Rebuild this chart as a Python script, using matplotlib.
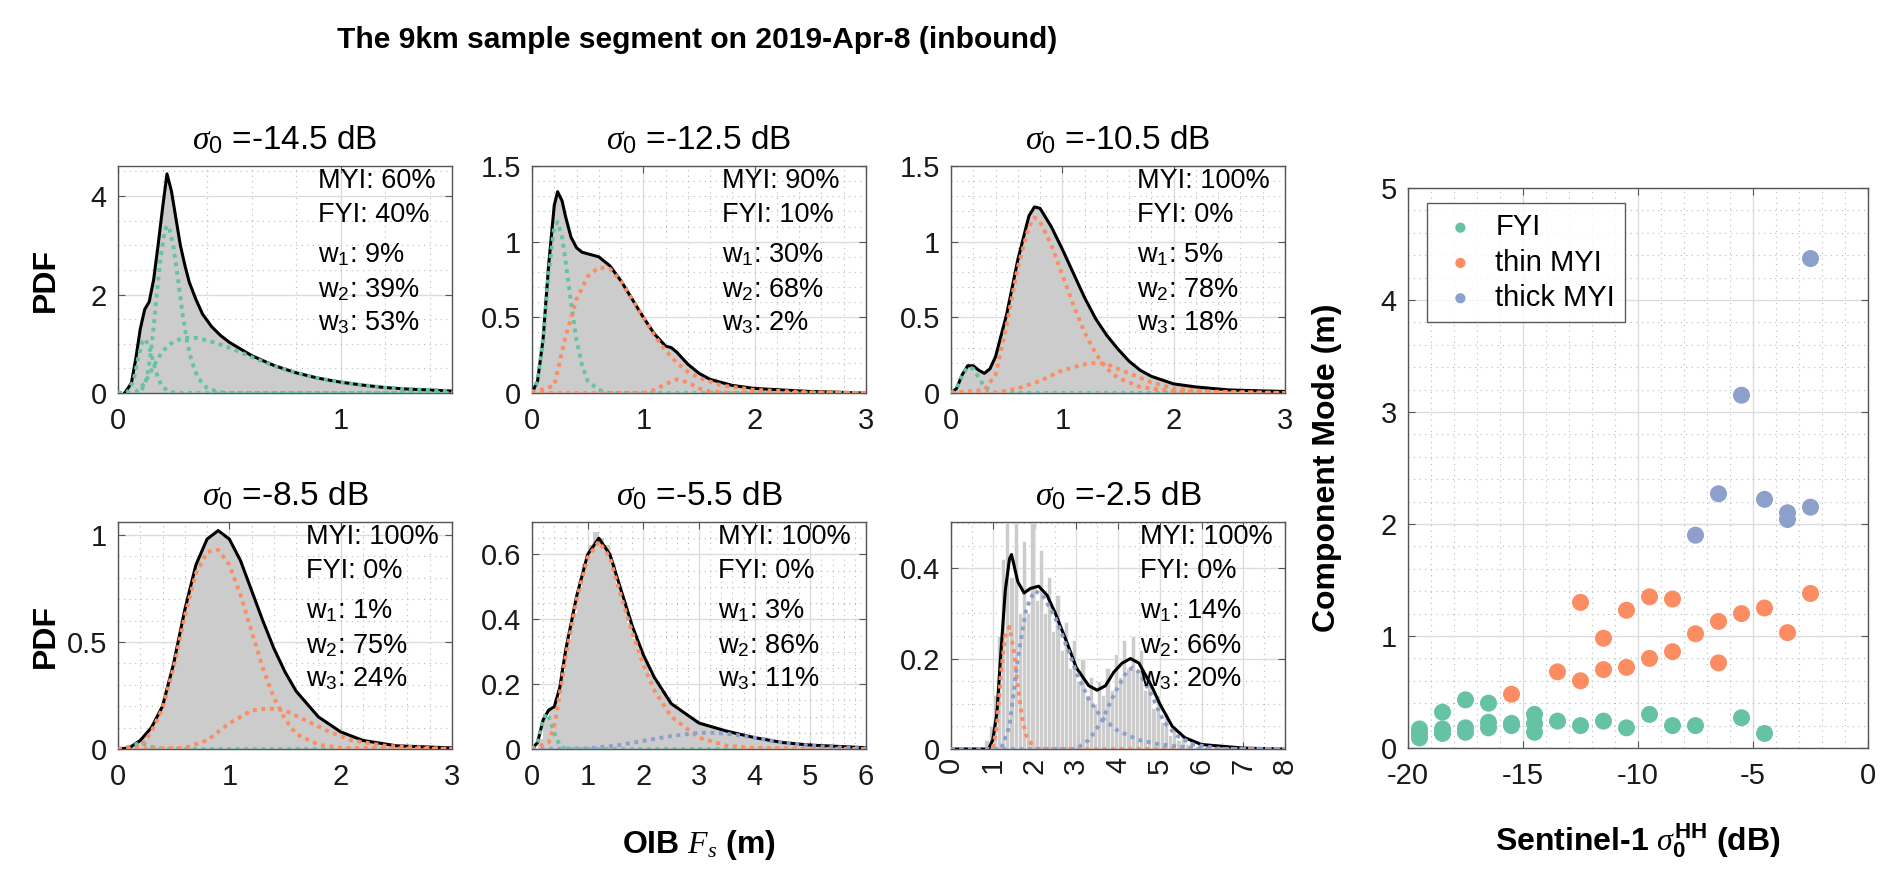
import matplotlib
matplotlib.use("Agg")
import matplotlib.pyplot as plt
import numpy as np
from matplotlib.ticker import FuncFormatter, MultipleLocator

plt.rcParams["font.family"] = ["Liberation Sans", "DejaVu Sans"]
plt.rcParams["mathtext.fontset"] = "custom"
plt.rcParams["mathtext.rm"] = "Liberation Sans"
plt.rcParams["mathtext.it"] = "Liberation Serif:italic"
plt.rcParams["mathtext.bf"] = "Liberation Sans:bold"

SUPTITLE = "The 9km sample segment on 2019-Apr-8 (inbound)"

SIGMA0_LABELS = ["-14.5", "-12.5", "-10.5", "-8.5", "-5.5", "-2.5"]
MYI_PCT = [60, 90, 100, 100, 100, 100]
FYI_PCT = [40, 10, 0, 0, 0, 0]
W1_PCT = [9, 30, 5, 1, 3, 14]
W2_PCT = [39, 68, 78, 75, 86, 66]
W3_PCT = [53, 2, 18, 24, 11, 20]

# ---- panel 1 (-14.5 dB)
P1_TOTAL_X = [0.03, 0.06, 0.08, 0.10, 0.12, 0.14, 0.16, 0.18, 0.20, 0.22, 0.24, 0.26, 0.28, 0.30,
              0.32, 0.35, 0.38, 0.42, 0.46, 0.50, 0.60, 0.70, 0.80, 0.90, 1.00, 1.10, 1.20, 1.30,
              1.40, 1.50]
P1_TOTAL_Y = [0.0, 0.2, 0.7, 1.3, 1.7, 1.85, 2.3, 3.0, 3.75, 4.45, 4.1, 3.55, 3.0, 2.6,
              2.25, 1.9, 1.6, 1.35, 1.17, 1.03, 0.76, 0.56, 0.41, 0.30, 0.22, 0.16, 0.11, 0.08,
              0.06, 0.04]
P1_W1_X = [0.0, 0.04, 0.07, 0.09, 0.11, 0.12, 0.14, 0.16, 0.18, 0.20, 0.23, 0.26, 1.5]
P1_W1_Y = [0.0, 0.0, 0.25, 0.7, 1.05, 1.1, 0.95, 0.6, 0.3, 0.12, 0.03, 0.0, 0.0]
P1_W2_X = [0.0, 0.10, 0.13, 0.15, 0.17, 0.19, 0.21, 0.22, 0.23, 0.25, 0.27, 0.29, 0.31, 0.33,
           0.36, 0.40, 0.45, 0.50, 1.5]
P1_W2_Y = [0.0, 0.0, 0.3, 0.9, 1.8, 2.7, 3.3, 3.4, 3.35, 2.95, 2.3, 1.6, 1.05, 0.65,
           0.3, 0.1, 0.02, 0.0, 0.0]
P1_W3_X = [0.0, 0.05, 0.08, 0.12, 0.16, 0.20, 0.25, 0.30, 0.35, 0.40, 0.45, 0.50, 0.60, 0.70,
           0.80, 0.90, 1.00, 1.10, 1.20, 1.30, 1.40, 1.50]
P1_W3_Y = [0.0, 0.0, 0.02, 0.2, 0.55, 0.85, 1.05, 1.12, 1.12, 1.07, 1.0, 0.92, 0.73, 0.55,
           0.41, 0.30, 0.22, 0.16, 0.11, 0.08, 0.06, 0.04]

# ---- panel 2 (-12.5 dB)
P2_TOTAL_X = [0.0, 0.05, 0.1, 0.15, 0.2, 0.23, 0.27, 0.3, 0.35, 0.4, 0.45, 0.5, 0.6, 0.7, 0.8,
              0.9, 1.0, 1.1, 1.2, 1.25, 1.3, 1.4, 1.5, 1.6, 1.8, 2.0, 2.5, 3.0]
P2_TOTAL_Y = [0.0, 0.08, 0.36, 0.85, 1.24, 1.33, 1.27, 1.17, 1.03, 0.96, 0.93, 0.92, 0.9, 0.84,
              0.74, 0.62, 0.5, 0.39, 0.31, 0.3, 0.27, 0.19, 0.13, 0.09, 0.05, 0.03, 0.01, 0.0]
P2_W1_X = [0.0, 0.05, 0.1, 0.15, 0.2, 0.23, 0.27, 0.3, 0.35, 0.4, 0.45, 0.5, 0.6, 0.7, 3.0]
P2_W1_Y = [0.0, 0.08, 0.36, 0.8, 1.1, 1.13, 1.03, 0.88, 0.6, 0.35, 0.18, 0.08, 0.02, 0.0, 0.0]
P2_W2_X = [0.0, 0.2, 0.3, 0.4, 0.5, 0.6, 0.7, 0.8, 0.9, 1.0, 1.1, 1.2, 1.3, 1.4, 1.5, 1.7,
           2.0, 2.5, 3.0]
P2_W2_Y = [0.0, 0.05, 0.37, 0.62, 0.77, 0.83, 0.82, 0.74, 0.62, 0.5, 0.38, 0.28, 0.2, 0.14,
           0.1, 0.05, 0.02, 0.005, 0.0]
P2_W3_X = [0.0, 1.0, 1.1, 1.2, 1.3, 1.4, 1.5, 1.6, 1.8, 3.0]
P2_W3_Y = [0.0, 0.0, 0.02, 0.06, 0.09, 0.07, 0.03, 0.01, 0.0, 0.0]

# ---- panel 3 (-10.5 dB)
P3_TOTAL_X = [0.0, 0.05, 0.1, 0.15, 0.2, 0.25, 0.3, 0.35, 0.4, 0.5, 0.6, 0.7, 0.75, 0.8, 0.9,
              1.0, 1.1, 1.2, 1.3, 1.4, 1.5, 1.6, 1.7, 1.8, 2.0, 2.2, 2.5, 3.0]
P3_TOTAL_Y = [0.0, 0.03, 0.12, 0.18, 0.18, 0.15, 0.13, 0.16, 0.24, 0.52, 0.88, 1.17, 1.23, 1.22,
              1.1, 0.95, 0.79, 0.63, 0.49, 0.38, 0.29, 0.21, 0.15, 0.11, 0.06, 0.04, 0.02, 0.01]
P3_W1_X = [0.0, 0.05, 0.1, 0.15, 0.2, 0.25, 0.3, 0.4, 3.0]
P3_W1_Y = [0.0, 0.03, 0.12, 0.17, 0.16, 0.1, 0.04, 0.0, 0.0]
P3_W2_X = [0.0, 0.3, 0.4, 0.5, 0.6, 0.7, 0.75, 0.8, 0.9, 1.0, 1.1, 1.2, 1.3, 1.4, 1.5, 1.7,
           2.0, 3.0]
P3_W2_Y = [0.0, 0.02, 0.12, 0.45, 0.83, 1.1, 1.16, 1.13, 0.98, 0.78, 0.58, 0.4, 0.26, 0.16,
           0.1, 0.04, 0.01, 0.0]
P3_W3_X = [0.0, 0.4, 0.6, 0.8, 1.0, 1.2, 1.3, 1.4, 1.6, 1.8, 2.0, 2.3, 3.0]
P3_W3_Y = [0.0, 0.0, 0.03, 0.08, 0.15, 0.19, 0.2, 0.19, 0.13, 0.07, 0.03, 0.01, 0.0]

# ---- panel 4 (-8.5 dB)
P4_TOTAL_X = [0.0, 0.1, 0.2, 0.3, 0.4, 0.5, 0.6, 0.7, 0.8, 0.9, 1.0, 1.1, 1.2, 1.3, 1.4, 1.5,
              1.6, 1.8, 2.0, 2.2, 2.5, 3.0]
P4_TOTAL_Y = [0.0, 0.005, 0.04, 0.1, 0.2, 0.4, 0.65, 0.86, 0.98, 1.02, 0.98, 0.88, 0.74, 0.6,
              0.47, 0.36, 0.27, 0.15, 0.08, 0.04, 0.015, 0.005]
P4_W1_X = [0.0, 0.1, 0.2, 0.3, 0.4, 3.0]
P4_W1_Y = [0.0, 0.01, 0.03, 0.01, 0.0, 0.0]
P4_W2_X = [0.0, 0.2, 0.3, 0.4, 0.5, 0.6, 0.7, 0.8, 0.9, 1.0, 1.1, 1.2, 1.3, 1.4, 1.5, 1.6,
           1.8, 2.0, 3.0]
P4_W2_Y = [0.0, 0.01, 0.08, 0.19, 0.38, 0.62, 0.82, 0.92, 0.93, 0.86, 0.72, 0.55, 0.38, 0.24,
           0.14, 0.07, 0.02, 0.005, 0.0]
P4_W3_X = [0.0, 0.6, 0.8, 1.0, 1.2, 1.35, 1.5, 1.7, 1.9, 2.1, 2.4, 3.0]
P4_W3_Y = [0.0, 0.005, 0.04, 0.12, 0.18, 0.19, 0.18, 0.13, 0.08, 0.04, 0.015, 0.0]

# ---- panel 5 (-5.5 dB)
P5_TOTAL_X = [0.0, 0.1, 0.2, 0.3, 0.4, 0.5, 0.6, 0.8, 1.0, 1.2, 1.4, 1.6, 1.8, 2.0, 2.2, 2.5,
              3.0, 3.5, 4.0, 4.5, 5.0, 6.0]
P5_TOTAL_Y = [0.0, 0.02, 0.09, 0.12, 0.13, 0.19, 0.3, 0.47, 0.6, 0.65, 0.6, 0.49, 0.38, 0.29,
              0.22, 0.14, 0.08, 0.055, 0.035, 0.02, 0.012, 0.004]
P5_W1_X = [0.0, 0.1, 0.2, 0.25, 0.3, 0.4, 0.5, 0.6, 6.0]
P5_W1_Y = [0.0, 0.02, 0.09, 0.11, 0.1, 0.05, 0.01, 0.0, 0.0]
P5_W2_X = [0.0, 0.3, 0.4, 0.5, 0.6, 0.8, 1.0, 1.2, 1.4, 1.6, 1.8, 2.0, 2.2, 2.5, 3.0, 3.5,
           4.0, 6.0]
P5_W2_Y = [0.0, 0.02, 0.07, 0.17, 0.28, 0.46, 0.59, 0.64, 0.59, 0.47, 0.36, 0.26, 0.18, 0.1,
           0.035, 0.01, 0.003, 0.0]
P5_W3_X = [0.0, 1.0, 1.5, 2.0, 2.5, 3.0, 3.3, 3.6, 4.0, 4.5, 5.0, 5.5, 6.0]
P5_W3_Y = [0.0, 0.002, 0.01, 0.025, 0.04, 0.05, 0.05, 0.045, 0.035, 0.02, 0.01, 0.005, 0.002]
# histogram, bins of 0.1 m starting at 0
P5_HIST = [0.0, 0.03, 0.1, 0.12, 0.15, 0.24, 0.33, 0.42, 0.5, 0.57,
           0.63, 0.67, 0.65, 0.63, 0.57, 0.51, 0.45, 0.39, 0.34, 0.3,
           0.27, 0.23, 0.21, 0.18, 0.16, 0.14, 0.12, 0.11, 0.1, 0.09,
           0.08, 0.075, 0.07, 0.065, 0.06, 0.055, 0.05, 0.045, 0.04, 0.035,
           0.03, 0.028, 0.025, 0.022, 0.02, 0.018, 0.016, 0.014, 0.012, 0.011,
           0.01, 0.009, 0.008, 0.007, 0.006, 0.005, 0.005, 0.004, 0.003, 0.003]

# ---- panel 6 (-2.5 dB)
P6_TOTAL_X = [0.0, 0.9, 1.0, 1.1, 1.2, 1.3, 1.4, 1.45, 1.5, 1.6, 1.75, 1.9, 2.1, 2.3, 2.5, 2.8,
              3.0, 3.3, 3.5, 3.7, 3.9, 4.1, 4.3, 4.5, 4.8, 5.0, 5.3, 5.6, 6.0, 7.0, 8.0]
P6_TOTAL_Y = [0.0, 0.0, 0.02, 0.08, 0.22, 0.35, 0.42, 0.43, 0.41, 0.37, 0.345, 0.355, 0.36, 0.34,
              0.3, 0.23, 0.18, 0.14, 0.13, 0.14, 0.17, 0.19, 0.2, 0.19, 0.14, 0.1, 0.05, 0.025,
              0.01, 0.002, 0.0]
P6_W1_X = [0.0, 1.0, 1.1, 1.2, 1.3, 1.4, 1.5, 1.6, 1.7, 1.8, 2.0, 8.0]
P6_W1_Y = [0.0, 0.0, 0.05, 0.17, 0.25, 0.27, 0.22, 0.14, 0.07, 0.03, 0.0, 0.0]
P6_W2_X = [0.0, 1.2, 1.4, 1.6, 1.8, 2.0, 2.2, 2.5, 2.8, 3.0, 3.3, 3.6, 4.0, 4.5, 5.0, 6.0, 8.0]
P6_W2_Y = [0.0, 0.0, 0.05, 0.2, 0.31, 0.35, 0.34, 0.29, 0.22, 0.17, 0.11, 0.07, 0.04, 0.02,
           0.01, 0.0, 0.0]
P6_W3_X = [0.0, 3.0, 3.3, 3.6, 3.9, 4.2, 4.35, 4.5, 4.8, 5.1, 5.4, 5.8, 6.5, 8.0]
P6_W3_Y = [0.0, 0.0, 0.02, 0.06, 0.12, 0.17, 0.18, 0.17, 0.12, 0.06, 0.03, 0.01, 0.0, 0.0]
# histogram, bins of 0.1 m starting at 0
P6_HIST = [0.0, 0.0, 0.0, 0.0, 0.0, 0.0, 0.0, 0.005, 0.02, 0.05,
           0.12, 0.25, 0.42, 0.5, 0.38, 0.5, 0.3, 0.46, 0.3, 0.5,
           0.33, 0.44, 0.3, 0.38, 0.26, 0.34, 0.22, 0.28, 0.18, 0.24,
           0.15, 0.2, 0.12, 0.16, 0.1, 0.15, 0.12, 0.18, 0.13, 0.21,
           0.16, 0.24, 0.18, 0.25, 0.17, 0.22, 0.13, 0.17, 0.09, 0.12,
           0.06, 0.08, 0.03, 0.05, 0.02, 0.03, 0.01, 0.02, 0.005, 0.015,
           0.005, 0.01, 0.0, 0.008, 0.0, 0.005, 0.0, 0.0, 0.004, 0.0,
           0.0, 0.0, 0.003, 0.0, 0.0, 0.0, 0.0, 0.0, 0.0, 0.0]

# ---- scatter: component modes vs backscatter
FYI_X = [-19.5, -19.5, -19.5, -18.5, -18.5, -18.5, -17.5, -17.5, -17.5, -16.5, -16.5, -16.5,
         -15.5, -15.5, -14.5, -14.5, -14.5, -13.5, -12.5, -11.5, -10.5, -9.5, -8.5, -7.5,
         -5.5, -4.5]
FYI_Y = [0.09, 0.13, 0.17, 0.32, 0.17, 0.13, 0.43, 0.18, 0.14, 0.40, 0.23, 0.18,
         0.22, 0.20, 0.30, 0.22, 0.14, 0.24, 0.20, 0.24, 0.18, 0.30, 0.20, 0.20,
         0.27, 0.13]
THIN_X = [-15.5, -13.5, -12.5, -12.5, -11.5, -11.5, -10.5, -10.5, -9.5, -9.5, -8.5, -8.5,
          -7.5, -6.5, -6.5, -5.5, -4.5, -3.5, -2.5]
THIN_Y = [0.48, 0.68, 0.60, 1.30, 0.98, 0.70, 0.72, 1.23, 0.80, 1.35, 0.86, 1.33,
          1.02, 1.13, 0.76, 1.20, 1.25, 1.03, 1.38]
THICK_X = [-7.5, -6.5, -5.5, -4.5, -3.5, -3.5, -2.5, -2.5]
THICK_Y = [1.90, 2.27, 3.15, 2.22, 2.10, 2.04, 2.15, 4.37]

GREEN = "#66c2a5"
ORANGE = "#fc8d62"
BLUE = "#8da0cb"
HIST_GRAY = "#cbcccb"


def fmt_g(v, pos):
    return f"{v:g}"


def style_axes(ax, xticks, yticks, xminor, yminor, label_size=21):
    ax.set_xticks(xticks)
    ax.set_yticks(yticks)
    ax.xaxis.set_minor_locator(MultipleLocator(xminor))
    ax.yaxis.set_minor_locator(MultipleLocator(yminor))
    ax.xaxis.set_major_formatter(FuncFormatter(fmt_g))
    ax.yaxis.set_major_formatter(FuncFormatter(fmt_g))
    ax.grid(True, which="major", color="#dcdcdc", linewidth=1.0)
    ax.grid(True, which="minor", color="#b8b8b8", linewidth=0.8, linestyle=(0, (1, 4)))
    ax.set_axisbelow(True)
    ax.tick_params(which="major", direction="in", length=5, width=0.8, top=True, right=True,
                   labelsize=label_size, color="#555555", labelcolor="#1a1a1a")
    ax.tick_params(axis="x", which="major", pad=10)
    ax.tick_params(axis="y", which="major", pad=8)
    ax.tick_params(which="minor", length=0, top=True, right=True)
    for sp in ax.spines.values():
        sp.set_color("#555555")
        sp.set_linewidth(1.0)


def draw_pdf_panel(ax, idx, total, comps, xmax, ymax, hist=None, hist_edge="none"):
    if hist is None:
        ax.fill_between(total[0], total[1], color=HIST_GRAY, linewidth=0, zorder=1)
    else:
        centers = np.arange(len(hist)) * 0.1 + 0.05
        ax.bar(centers, hist, width=0.1, color=HIST_GRAY, edgecolor=hist_edge,
               linewidth=0.4, zorder=1)
    ax.plot(total[0], total[1], color="black", linewidth=2.2, zorder=3)
    for cx, cy, col in comps:
        ax.plot(cx, cy, color=col, linewidth=2.8, linestyle=(0, (1, 1.2)), zorder=4)
    ax.set_xlim(0, xmax)
    ax.set_ylim(0, ymax)
    ax.set_title(f"$\\sigma_0$ ={SIGMA0_LABELS[idx]} dB", fontsize=24, pad=12)


def add_stats(ax, idx, xfrac):
    lines = [
        (0.903, f"MYI: {MYI_PCT[idx]}%"),
        (0.753, f"FYI: {FYI_PCT[idx]}%"),
        (0.577, f"w$_1$: {W1_PCT[idx]}%"),
        (0.423, f"w$_2$: {W2_PCT[idx]}%"),
        (0.278, f"w$_3$: {W3_PCT[idx]}%"),
    ]
    for yy, txt in lines:
        ax.text(xfrac, yy, txt, transform=ax.transAxes, fontsize=19.5, ha="left",
                va="baseline", zorder=6)


def main():
    fig = plt.figure(figsize=(18.92, 8.94), dpi=100)
    W, H = 1892.0, 894.0

    lefts = [118, 532, 951]
    tops = [166, 522]
    aw, ah = 334, 227
    axes = []
    for r in range(2):
        for c in range(3):
            ax = fig.add_axes([lefts[c] / W, 1 - (tops[r] + ah) / H, aw / W, ah / H])
            axes.append(ax)

    panels = [
        ((P1_TOTAL_X, P1_TOTAL_Y), [(P1_W1_X, P1_W1_Y, GREEN), (P1_W2_X, P1_W2_Y, GREEN),
                                    (P1_W3_X, P1_W3_Y, GREEN)], 1.5, 4.61, None, "none"),
        ((P2_TOTAL_X, P2_TOTAL_Y), [(P2_W1_X, P2_W1_Y, GREEN), (P2_W2_X, P2_W2_Y, ORANGE),
                                    (P2_W3_X, P2_W3_Y, ORANGE)], 3, 1.5, None, "none"),
        ((P3_TOTAL_X, P3_TOTAL_Y), [(P3_W1_X, P3_W1_Y, GREEN), (P3_W2_X, P3_W2_Y, ORANGE),
                                    (P3_W3_X, P3_W3_Y, ORANGE)], 3, 1.5, None, "none"),
        ((P4_TOTAL_X, P4_TOTAL_Y), [(P4_W1_X, P4_W1_Y, GREEN), (P4_W2_X, P4_W2_Y, ORANGE),
                                    (P4_W3_X, P4_W3_Y, ORANGE)], 3, 1.06, None, "none"),
        ((P5_TOTAL_X, P5_TOTAL_Y), [(P5_W1_X, P5_W1_Y, GREEN), (P5_W2_X, P5_W2_Y, ORANGE),
                                    (P5_W3_X, P5_W3_Y, BLUE)], 6, 0.7, P5_HIST, "none"),
        ((P6_TOTAL_X, P6_TOTAL_Y), [(P6_W1_X, P6_W1_Y, ORANGE), (P6_W2_X, P6_W2_Y, BLUE),
                                    (P6_W3_X, P6_W3_Y, BLUE)], 8, 0.502, P6_HIST, "white"),
    ]
    ticks = [
        ([0, 1], [0, 2, 4], 0.2, 0.5),
        ([0, 1, 2, 3], [0, 0.5, 1, 1.5], 0.2, 0.1),
        ([0, 1, 2, 3], [0, 0.5, 1, 1.5], 0.2, 0.1),
        ([0, 1, 2, 3], [0, 0.5, 1], 0.2, 0.1),
        ([0, 1, 2, 3, 4, 5, 6], [0, 0.2, 0.4, 0.6], 0.2, 0.05),
        ([0, 1, 2, 3, 4, 5, 6, 7, 8], [0, 0.2, 0.4], 0.5, 0.05),
    ]
    text_x = [0.60, 0.57, 0.557, 0.563, 0.557, 0.566]

    for i, ax in enumerate(axes):
        total, comps, xmax, ymax, hist, edge = panels[i]
        draw_pdf_panel(ax, i, total, comps, xmax, ymax, hist, edge)
        xt, yt, xm, ym = ticks[i]
        style_axes(ax, xt, yt, xm, ym)
        add_stats(ax, i, text_x[i])
    axes[5].tick_params(axis="x", labelrotation=90, pad=6)

    for ax in (axes[0], axes[3]):
        ax.set_ylabel("PDF", fontsize=23, fontweight="bold")
        ax.yaxis.set_label_coords(-0.17, 0.5)
    axes[4].set_xlabel("OIB $F_s$ (m)", fontsize=23, fontweight="bold")
    axes[4].xaxis.set_label_coords(0.5, -0.35)

    # scatter of component modes
    sax = fig.add_axes([1408 / W, 1 - 748 / H, 460 / W, 560 / H])
    sax.scatter(FYI_X, FYI_Y, s=150, color=GREEN, edgecolors="none", label="FYI", zorder=3)
    sax.scatter(THIN_X, THIN_Y, s=150, color=ORANGE, edgecolors="none", label="thin MYI", zorder=3)
    sax.scatter(THICK_X, THICK_Y, s=150, color=BLUE, edgecolors="none", label="thick MYI", zorder=3)
    sax.set_xlim(-20, 0)
    sax.set_ylim(0, 5)
    style_axes(sax, [-20, -15, -10, -5, 0], [0, 1, 2, 3, 4, 5], 1, 0.2)
    sax.set_ylabel("Component Mode (m)", fontsize=23, fontweight="bold")
    sax.yaxis.set_label_coords(-0.143, 0.5)
    sax.set_xlabel("Sentinel-1 $\\sigma_{\\mathbf{0}}^{\\mathbf{HH}}$ (dB)", fontsize=23,
                   fontweight="bold")
    sax.xaxis.set_label_coords(0.5, -0.13)
    leg = sax.legend(loc="upper left", bbox_to_anchor=(0.041, 0.973), borderaxespad=0,
                     fontsize=21, markerscale=0.6, frameon=True, fancybox=False,
                     handletextpad=0.4, labelspacing=0.25, borderpad=0.35,
                     handlelength=1.6)
    leg.get_frame().set_edgecolor("#333333")
    leg.get_frame().set_linewidth(1.0)

    fig.text(697 / W, 1 - 40 / H, SUPTITLE, ha="center", va="center", fontsize=21.6,
             fontweight="bold")

    fig.savefig("out.png", dpi=100)
    plt.close("all")


if __name__ == "__main__":
    main()
